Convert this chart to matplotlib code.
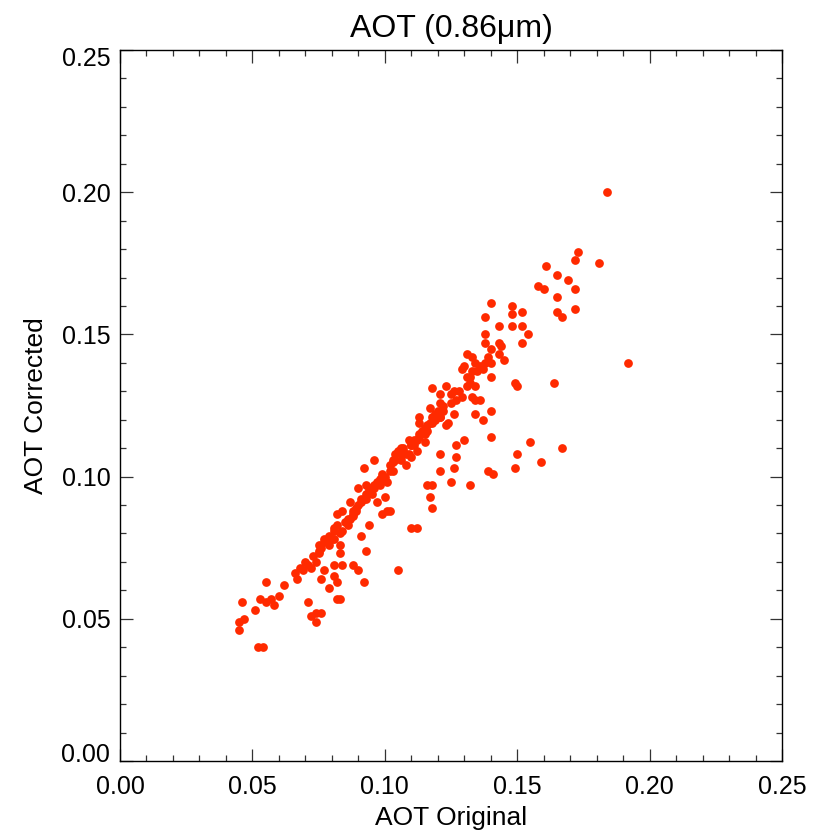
import matplotlib
matplotlib.use("Agg")
import matplotlib.pyplot as plt
from matplotlib.ticker import MultipleLocator, FormatStrFormatter
from matplotlib.transforms import ScaledTranslation

plt.rcParams['font.family'] = ['Liberation Sans', 'DejaVu Sans']

# Aerosol optical thickness at 0.86 um: original retrieval vs corrected retrieval
aot_original = [
    0.184, 0.173, 0.172, 0.181, 0.161, 0.165, 0.169, 0.158, 0.160, 0.172,
    0.165, 0.172, 0.165, 0.167, 0.140, 0.148, 0.138, 0.148, 0.152, 0.148,
    0.152, 0.143, 0.138, 0.154, 0.152, 0.138, 0.143, 0.144, 0.140, 0.131,
    0.133, 0.139, 0.143, 0.145, 0.140, 0.134, 0.130, 0.129, 0.135, 0.137,
    0.192, 0.132, 0.140, 0.164, 0.149, 0.150, 0.123, 0.118, 0.134, 0.126,
    0.128, 0.131, 0.121, 0.125, 0.127, 0.129, 0.133, 0.134, 0.136, 0.121,
    0.117, 0.122, 0.119, 0.126, 0.134, 0.140, 0.137, 0.113, 0.113, 0.118,
    0.124, 0.123, 0.121, 0.120, 0.140, 0.130, 0.127, 0.155, 0.167, 0.109,
    0.111, 0.113, 0.115, 0.117, 0.106, 0.121, 0.127, 0.150, 0.159, 0.149,
    0.126, 0.121, 0.139, 0.141, 0.125, 0.116, 0.118, 0.132, 0.117, 0.118,
    0.110, 0.112, 0.105, 0.096, 0.092, 0.090, 0.100, 0.102, 0.101, 0.099,
    0.082, 0.094, 0.091, 0.093, 0.083, 0.083, 0.081, 0.084, 0.088, 0.090,
    0.092, 0.077, 0.076, 0.081, 0.082, 0.079, 0.082, 0.083, 0.071, 0.076,
    0.074, 0.072, 0.074, 0.055, 0.062, 0.060, 0.053, 0.055, 0.058, 0.057,
    0.046, 0.051, 0.047, 0.045, 0.045, 0.052, 0.054,
    0.066, 0.067, 0.068, 0.069, 0.070, 0.071, 0.072, 0.074, 0.073, 0.075,
    0.076, 0.077, 0.079, 0.081, 0.082, 0.083, 0.085, 0.086, 0.088, 0.088,
    0.089, 0.091, 0.092, 0.093, 0.094, 0.096, 0.097, 0.098, 0.099, 0.101,
    0.103, 0.103, 0.105, 0.106, 0.108, 0.109, 0.110, 0.111, 0.113, 0.115,
    0.116, 0.118, 0.131, 0.132, 0.133, 0.136, 0.138,
    0.075, 0.077, 0.079, 0.080, 0.087, 0.084, 0.093, 0.095, 0.097, 0.091,
    0.088, 0.086, 0.081, 0.079, 0.075, 0.081, 0.084, 0.087, 0.089, 0.093,
    0.096, 0.099, 0.102, 0.104, 0.107, 0.116, 0.110, 0.107, 0.104, 0.103,
    0.108, 0.110, 0.112, 0.115, 0.119, 0.121, 0.122, 0.125,
    0.090, 0.094, 0.098, 0.100, 0.102, 0.095, 0.099, 0.106, 0.112, 0.114,
]

aot_corrected = [
    0.200, 0.179, 0.176, 0.175, 0.174, 0.171, 0.169, 0.167, 0.166, 0.166,
    0.163, 0.159, 0.158, 0.156, 0.161, 0.160, 0.156, 0.157, 0.158, 0.153,
    0.153, 0.153, 0.150, 0.150, 0.147, 0.147, 0.147, 0.146, 0.145, 0.143,
    0.142, 0.142, 0.143, 0.141, 0.140, 0.140, 0.139, 0.138, 0.137, 0.138,
    0.140, 0.135, 0.135, 0.133, 0.133, 0.132, 0.132, 0.131, 0.132, 0.130,
    0.130, 0.132, 0.129, 0.129, 0.127, 0.128, 0.128, 0.127, 0.127, 0.126,
    0.124, 0.125, 0.122, 0.122, 0.122, 0.123, 0.120, 0.121, 0.119, 0.121,
    0.119, 0.118, 0.121, 0.123, 0.114, 0.113, 0.111, 0.112, 0.110, 0.113,
    0.113, 0.115, 0.117, 0.119, 0.110, 0.108, 0.107, 0.108, 0.105, 0.103,
    0.103, 0.102, 0.102, 0.101, 0.098, 0.097, 0.097, 0.097, 0.093, 0.089,
    0.082, 0.082, 0.067, 0.106, 0.103, 0.096, 0.093, 0.088, 0.088, 0.087,
    0.087, 0.083, 0.079, 0.074, 0.076, 0.073, 0.069, 0.069, 0.069, 0.067,
    0.063, 0.067, 0.064, 0.065, 0.063, 0.061, 0.057, 0.057, 0.056, 0.052,
    0.052, 0.051, 0.049, 0.063, 0.062, 0.058, 0.057, 0.056, 0.055, 0.057,
    0.056, 0.053, 0.050, 0.049, 0.046, 0.040, 0.040,
    0.066, 0.064, 0.068, 0.067, 0.070, 0.069, 0.068, 0.070, 0.072, 0.073,
    0.075, 0.077, 0.078, 0.081, 0.083, 0.080, 0.084, 0.085, 0.088, 0.087,
    0.089, 0.091, 0.092, 0.094, 0.096, 0.097, 0.098, 0.099, 0.101, 0.098,
    0.102, 0.105, 0.109, 0.106, 0.104, 0.108, 0.111, 0.111, 0.114, 0.115,
    0.116, 0.119, 0.135, 0.133, 0.137, 0.139, 0.140,
    0.074, 0.078, 0.076, 0.078, 0.091, 0.088, 0.097, 0.094, 0.091, 0.092,
    0.086, 0.083, 0.082, 0.079, 0.076, 0.078, 0.081, 0.085, 0.088, 0.092,
    0.096, 0.099, 0.104, 0.106, 0.109, 0.118, 0.111, 0.110, 0.108, 0.106,
    0.108, 0.107, 0.109, 0.112, 0.120, 0.121, 0.123, 0.126,
    0.090, 0.095, 0.097, 0.100, 0.102, 0.096, 0.100, 0.108, 0.113, 0.116,
]

x_ticks = [0.00, 0.05, 0.10, 0.15, 0.20, 0.25]
y_ticks = [0.00, 0.05, 0.10, 0.15, 0.20, 0.25]

fig = plt.figure(figsize=(8.22, 8.34), dpi=100)
ax = fig.add_axes([120 / 822, 73 / 834, 662 / 822, 711 / 834])

ax.plot(aot_original, aot_corrected, linestyle='none', marker='o',
        markersize=6.3, markeredgewidth=0, color='#ff2a00')

ax.set_xlim(0, 0.25)
ax.set_ylim(0, 0.25)
ax.set_xticks(x_ticks)
ax.set_yticks(y_ticks)
ax.xaxis.set_minor_locator(MultipleLocator(0.01))
ax.yaxis.set_minor_locator(MultipleLocator(0.01))
ax.xaxis.set_major_formatter(FormatStrFormatter('%.2f'))
ax.yaxis.set_major_formatter(FormatStrFormatter('%.2f'))

ax.tick_params(which='both', direction='in', top=True, right=True,
               color='#333333', width=0.9)
ax.tick_params(which='major', length=9, labelsize=18)
ax.tick_params(axis='x', which='major', pad=10)
ax.tick_params(axis='y', which='major', pad=7)
ax.tick_params(which='minor', length=4.5)
for sp in ax.spines.values():
    sp.set_linewidth(1.0)
    sp.set_color('black')

# keep the end labels of the y axis inside the axis span
ylabels = ax.get_yticklabels()
ylabels[0].set_transform(ylabels[0].get_transform()
                         + ScaledTranslation(0, 8 / 100, fig.dpi_scale_trans))
ylabels[-1].set_transform(ylabels[-1].get_transform()
                          + ScaledTranslation(0, -7 / 100, fig.dpi_scale_trans))

ax.set_title('AOT (0.86\u03bcm)', fontsize=23, pad=9)
ax.set_xlabel('AOT Original', fontsize=19, labelpad=5)
ax.set_ylabel('AOT Corrected', fontsize=19, labelpad=10)

fig.savefig('out.png', dpi=100)
